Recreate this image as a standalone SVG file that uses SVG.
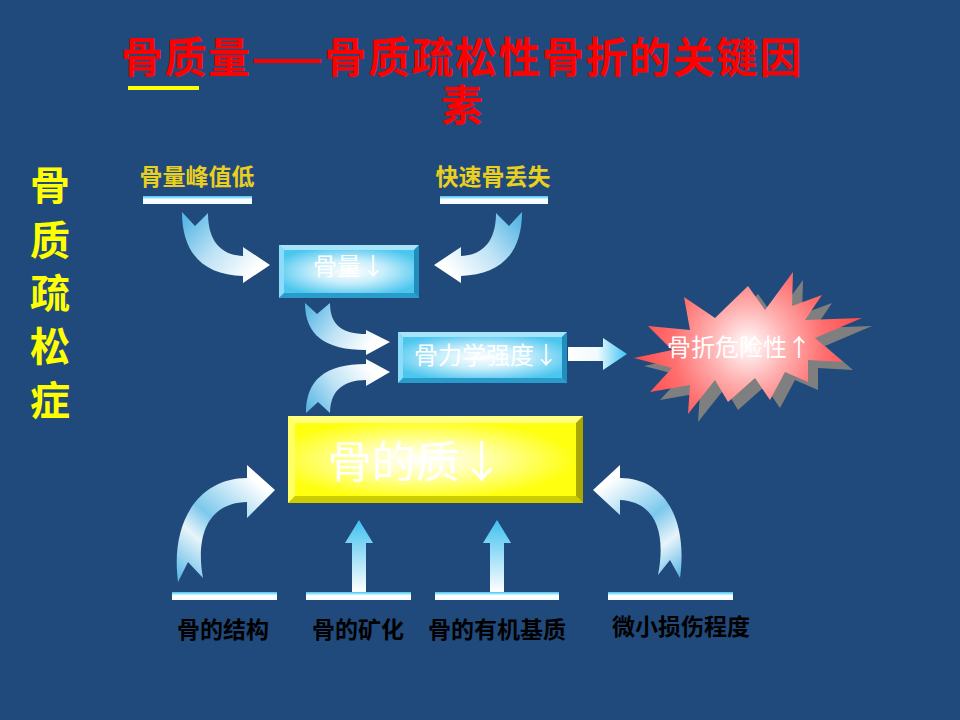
<svg xmlns="http://www.w3.org/2000/svg" width="960" height="720" viewBox="0 0 960 720">
<style>
.cjk{font-family:"Noto Sans CJK SC","Noto Sans CJK JP",sans-serif}
.title{font-size:42px;font-weight:bold;fill:#ff0000}
.side{font-size:40px;font-weight:bold;fill:#ffff00}
.top{font-size:23px;font-weight:bold;fill:#e8cf20}
.bot{font-size:23px;font-weight:bold;fill:#000000}
.wt{fill:#ffffff}
</style>
<defs>
<linearGradient id="bar" x1="0" y1="0" x2="0" y2="1">
<stop offset="0" stop-color="#3ec4f2"/><stop offset="0.45" stop-color="#ffffff"/><stop offset="1" stop-color="#f4fbff"/>
</linearGradient>
<linearGradient id="upArr" x1="0" y1="0" x2="0" y2="1">
<stop offset="0" stop-color="#3fc0f0"/><stop offset="1" stop-color="#ffffff"/>
</linearGradient>
<linearGradient id="rtArr" x1="0" y1="0" x2="1" y2="0">
<stop offset="0" stop-color="#ffffff"/><stop offset="0.5" stop-color="#f0faff"/><stop offset="1" stop-color="#3ec4f2"/>
</linearGradient>
<linearGradient id="gTL" gradientUnits="userSpaceOnUse" x1="190" y1="215" x2="255" y2="270">
<stop offset="0" stop-color="#5ab8e6"/><stop offset="0.5" stop-color="#bfe3f5"/><stop offset="1" stop-color="#ffffff"/>
</linearGradient>
<linearGradient id="gTR" gradientUnits="userSpaceOnUse" x1="514" y1="215" x2="449" y2="270">
<stop offset="0" stop-color="#5ab8e6"/><stop offset="0.5" stop-color="#bfe3f5"/><stop offset="1" stop-color="#ffffff"/>
</linearGradient>
<linearGradient id="gM1" gradientUnits="userSpaceOnUse" x1="310" y1="305" x2="370" y2="345">
<stop offset="0" stop-color="#5ab8e6"/><stop offset="0.5" stop-color="#bfe3f5"/><stop offset="1" stop-color="#ffffff"/>
</linearGradient>
<linearGradient id="gM2" gradientUnits="userSpaceOnUse" x1="310" y1="412" x2="370" y2="370">
<stop offset="0" stop-color="#5ab8e6"/><stop offset="0.5" stop-color="#bfe3f5"/><stop offset="1" stop-color="#ffffff"/>
</linearGradient>
<linearGradient id="gBL" gradientUnits="userSpaceOnUse" x1="180" y1="580" x2="260" y2="485">
<stop offset="0" stop-color="#5ab8e6"/><stop offset="0.35" stop-color="#e8f4fa"/><stop offset="0.55" stop-color="#7cc8ec"/><stop offset="1" stop-color="#ffffff"/>
</linearGradient>
<linearGradient id="gBR" gradientUnits="userSpaceOnUse" x1="675" y1="580" x2="605" y2="485">
<stop offset="0" stop-color="#5ab8e6"/><stop offset="0.3" stop-color="#e8f4fa"/><stop offset="0.55" stop-color="#7cc8ec"/><stop offset="1" stop-color="#ffffff"/>
</linearGradient>
<radialGradient id="cyanFace" cx="0.5" cy="0.5" r="0.6">
<stop offset="0" stop-color="#ffffff"/><stop offset="0.45" stop-color="#c8eefb"/><stop offset="1" stop-color="#4cc6ef"/>
</radialGradient>
<radialGradient id="yelFace" cx="0.45" cy="0.5" r="0.55">
<stop offset="0" stop-color="#ffffff"/><stop offset="0.4" stop-color="#ffffb0"/><stop offset="1" stop-color="#ffff10"/>
</radialGradient>
<radialGradient id="star" gradientUnits="userSpaceOnUse" cx="748" cy="345" r="110">
<stop offset="0" stop-color="#ffffff"/><stop offset="0.35" stop-color="#ffb0b0"/><stop offset="0.7" stop-color="#ff6e6e"/><stop offset="1" stop-color="#ff5050"/>
</radialGradient>
</defs>
<rect width="960" height="720" fill="#214a7c"/>

<g id="title" class="cjk">
<text class="title" x="462" y="73" text-anchor="middle" letter-spacing="1.5">骨质量——骨质疏松性骨折的关键因</text>
<text class="title" x="462" y="121" text-anchor="middle">素</text>
<rect x="128" y="86" width="71" height="4" fill="#ffff00"/>
</g>

<g id="side" class="cjk side" text-anchor="middle">
<text x="50" y="200">骨</text>
<text x="50" y="255">质</text>
<text x="50" y="308">疏</text>
<text x="50" y="361">松</text>
<text x="50" y="415">症</text>
</g>

<g id="n-peak">
<text class="cjk top" x="197" y="185" text-anchor="middle">骨量峰值低</text>
<rect x="143" y="196" width="109" height="8" fill="url(#bar)"/>
</g>
<g id="n-loss">
<text class="cjk top" x="493" y="185" text-anchor="middle">快速骨丢失</text>
<rect x="440" y="196" width="108" height="8" fill="url(#bar)"/>
</g>

<g id="n-mass">
<rect x="279" y="245" width="140" height="53" fill="#4cc6ef"/>
<polygon points="279,245 419,245 414,250 284,250" fill="#a6e4fa"/>
<polygon points="279,245 284,250 284,293 279,298" fill="#8adcf8"/>
<polygon points="279,298 284,293 414,293 419,298" fill="#2a9ccc"/>
<polygon points="419,245 419,298 414,293 414,250" fill="#1f8dbd"/>
<rect x="284" y="250" width="130" height="43" fill="url(#cyanFace)"/>
<text class="cjk wt" x="349" y="275" font-size="24" text-anchor="middle">骨量↓</text>
</g>

<g id="n-strength">
<rect x="398" y="332" width="169" height="51" fill="#4cc6ef"/>
<polygon points="398,332 567,332 562,337 403,337" fill="#a6e4fa"/>
<polygon points="398,332 403,337 403,378 398,383" fill="#8adcf8"/>
<polygon points="398,383 403,378 562,378 567,383" fill="#2a9ccc"/>
<polygon points="567,332 567,383 562,378 562,337" fill="#1f8dbd"/>
<rect x="403" y="337" width="159" height="41" fill="url(#cyanFace)"/>
<text class="cjk wt" x="486" y="364" font-size="24" text-anchor="middle">骨力学强度↓</text>
</g>

<g id="n-risk">
<polygon transform="translate(10,8)" fill="#7f7f7f" points="748,286 765,310 793,272 792,306 822,295 805,320 862,318 815,338 843,362 808,360 808,382 785,372 770,400 755,378 728,402 715,380 688,414 690,385 650,392 672,368 634,358 672,350 648,326 690,330 684,297 715,318"/>
<polygon fill="url(#star)" points="748,286 765,310 793,272 792,306 822,295 805,320 862,318 815,338 843,362 808,360 808,382 785,372 770,400 755,378 728,402 715,380 688,414 690,385 650,392 672,368 634,358 672,350 648,326 690,330 684,297 715,318"/>
<text class="cjk wt" x="739" y="356" font-size="24" text-anchor="middle">骨折危险性↑</text>
</g>

<g id="n-quality">
<rect x="288" y="416" width="295" height="87" fill="#ffff00"/>
<polygon points="288,416 583,416 576,423 295,423" fill="#ffff80"/>
<polygon points="288,416 295,423 295,496 288,503" fill="#ffff66"/>
<polygon points="288,503 295,496 576,496 583,503" fill="#cccc00"/>
<polygon points="583,416 583,503 576,496 576,423" fill="#a8a800"/>
<rect x="295" y="423" width="281" height="73" fill="url(#yelFace)"/>
<text class="cjk wt" x="416" y="478" font-size="44" text-anchor="middle">骨的质↓</text>
</g>

<g id="n-structure">
<rect x="172" y="592" width="105" height="8" fill="url(#bar)"/>
<text class="cjk bot" x="223" y="638" text-anchor="middle">骨的结构</text>
</g>
<g id="n-mineral">
<rect x="306" y="592" width="105" height="8" fill="url(#bar)"/>
<text class="cjk bot" x="358" y="638" text-anchor="middle">骨的矿化</text>
</g>
<g id="n-matrix">
<rect x="435" y="592" width="124" height="8" fill="url(#bar)"/>
<text class="cjk bot" x="497" y="638" text-anchor="middle">骨的有机基质</text>
</g>
<g id="n-damage">
<rect x="608" y="592" width="125" height="8" fill="url(#bar)"/>
<text class="cjk bot" x="681" y="635" text-anchor="middle">微小损伤程度</text>
</g>

<g id="connectors">
<path fill="url(#gTL)" d="M182,212 L195,226 L208,213 C208,240 220,255 243,256 L243,247 L270,265 L243,283 L243,276 C205,275 182,255 182,212 Z"/>
<path fill="url(#gTR)" d="M522,212 L509,226 L496,213 C496,240 484,255 461,256 L461,247 L434,265 L461,283 L461,276 C499,275 522,255 522,212 Z"/>
<path fill="url(#gM1)" d="M305,303 L317,314 L330,303 C330,325 342,334 366,334 L366,330 L390,342 L366,355 L366,350 C325,350 305,335 305,303 Z"/>
<path fill="url(#gM2)" d="M306,413 L318,402 L330,413 C330,392 342,380 366,380 L366,386 L390,372 L366,359 L366,364 C325,364 306,380 306,413 Z"/>
<polygon fill="url(#rtArr)" points="568,347 603,347 603,338 627,354 603,370 603,361 568,361"/>
<path fill="url(#gBL)" d="M178,582 L188,562 L203,578 C196,540 205,503 247,502 L247,518 L275,490 L247,465 L247,478 C200,478 170,520 178,582 Z"/>
<path fill="url(#gBR)" d="M680,578 L670,560 L658,575 C665,540 660,502 620,500 L620,515 L593,490 L620,465 L620,478 C665,478 688,520 680,578 Z"/>
<polygon fill="url(#upArr)" points="352,592 352,543 345,543 359,520 373,543 366,543 366,592"/>
<polygon fill="url(#upArr)" points="490,592 490,543 483,543 497,520 511,543 504,543 504,592"/>
</g>
</svg>
